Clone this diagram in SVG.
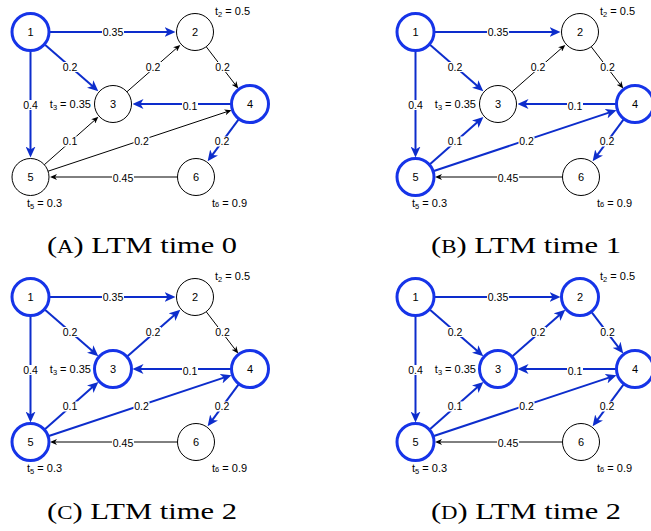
<svg xmlns="http://www.w3.org/2000/svg" width="651" height="531" viewBox="0 0 651 531">
  <style>
    .n circle { fill: #fff; stroke: #000; stroke-width: 1; }
    .n.on circle { stroke: #1634e8; stroke-width: 3; }
    .n text { font-family: "Liberation Sans", Arial, sans-serif; font-size: 11px; text-anchor: middle; fill: #000; }
    .e { stroke: #000; stroke-width: 1; fill: none; marker-end: url(#arrow-k); }
    .e.on { stroke: #0d2dcc; stroke-width: 2; marker-end: url(#arrow-b); }
    .lb rect { fill: #fff; }
    .lb text { font-family: "Liberation Sans", Arial, sans-serif; font-size: 10.5px; text-anchor: middle; fill: #000; }
    .t { font-family: "Liberation Sans", Arial, sans-serif; font-size: 11px; fill: #000; }
    .t .s { font-size: 7.5px; }
    .cap { font-family: "Liberation Serif", "Times New Roman", serif; font-size: 24px; fill: #000; text-anchor: middle; }
    .cap .sc { font-size: 18px; }
  </style>
  <defs>
    <marker id="arrow-b" markerUnits="userSpaceOnUse" markerWidth="11" markerHeight="10" refX="7" refY="5" orient="auto">
      <path d="M0,0 L11,5 L0,10 L3,5 Z" fill="#0d2dcc"/>
    </marker>
    <marker id="arrow-k" markerUnits="userSpaceOnUse" markerWidth="7" markerHeight="6" refX="5" refY="3" orient="auto">
      <path d="M0,0 L7,3 L0,6 L2,3 Z" fill="#000"/>
    </marker>
  </defs>

  <rect width="651" height="531" fill="#fff"/>

  <!-- (A) time 0 -->
  <g id="panel-a">
    <g id="a-connectors">
      <line id="a-e12" class="e on" x1="49" y1="32" x2="171.5" y2="32"/>
      <line id="a-e13" class="e on" x1="44.4" y1="44.2" x2="95.3" y2="88.6"/>
      <line id="a-e15" class="e on" x1="30.5" y1="50.5" x2="30.5" y2="153.5"/>
      <line id="a-e32" class="e" x1="126.9" y1="91.8" x2="178.8" y2="46.2"/>
      <line id="a-e24" class="e" x1="206.2" y1="46.7" x2="237" y2="86.9"/>
      <line id="a-e43" class="e on" x1="231.5" y1="104" x2="136.5" y2="104"/>
      <line id="a-e46" class="e on" x1="239" y1="118.9" x2="210" y2="158.1"/>
      <line id="a-e53" class="e" x1="44.35" y1="164.7" x2="96.9" y2="118.2"/>
      <line id="a-e54" class="e" x1="48.1" y1="171.2" x2="229.6" y2="110.8"/>
      <line id="a-e65" class="e" x1="177.5" y1="177" x2="52" y2="177"/>
      <g class="lb">
        <rect x="102" y="27" width="22" height="10"/><text x="113" y="35.8">0.35</text>
        <rect x="62" y="62" width="16" height="10"/><text x="70" y="70.8">0.2</text>
        <rect x="22.5" y="100" width="16" height="10"/><text x="30.5" y="108.8">0.4</text>
        <rect x="145" y="62" width="16" height="10"/><text x="153" y="70.8">0.2</text>
        <rect x="214.5" y="62" width="16" height="10"/><text x="222.5" y="70.8">0.2</text>
        <rect x="182" y="101" width="16" height="10"/><text x="190" y="109.8">0.1</text>
        <rect x="214" y="136.5" width="16" height="10"/><text x="222" y="145.3">0.2</text>
        <rect x="62" y="136.5" width="16" height="10"/><text x="70" y="145.3">0.1</text>
        <rect x="133.5" y="136.5" width="16" height="10"/><text x="141.5" y="145.3">0.2</text>
        <rect x="112" y="173" width="22" height="10"/><text x="123" y="181.8">0.45</text>
      </g>
    </g>
    <g id="a-n1" class="n on"><circle cx="30.5" cy="32" r="18.5"/><text x="30.5" y="36">1</text></g>
    <g id="a-n2" class="n"><circle cx="195" cy="32" r="18.5"/><text x="195" y="36">2</text></g>
    <g id="a-n3" class="n"><circle cx="113" cy="104" r="18.5"/><text x="113" y="108">3</text></g>
    <g id="a-n4" class="n on"><circle cx="250" cy="104" r="18.5"/><text x="250" y="108">4</text></g>
    <g id="a-n5" class="n"><circle cx="30.5" cy="177" r="18.5"/><text x="30.5" y="181">5</text></g>
    <g id="a-n6" class="n"><circle cx="196" cy="177" r="18.5"/><text x="196" y="181">6</text></g>
    <text class="t" x="215" y="14.5">t<tspan class="s" dy="2.5">2</tspan><tspan dy="-2.5"> = 0.5</tspan></text>
    <text class="t" x="91" y="107.5" text-anchor="end">t<tspan class="s" dy="2.5">3</tspan><tspan dy="-2.5"> = 0.35</tspan></text>
    <text class="t" x="27" y="206.5">t<tspan class="s" dy="2.5">5</tspan><tspan dy="-2.5"> = 0.3</tspan></text>
    <text class="t" x="212" y="206.5">t<tspan class="s">6</tspan> = 0.9</text>
    <text class="cap" x="142" y="253" textLength="190" lengthAdjust="spacingAndGlyphs">(<tspan class="sc">A</tspan>) LTM time 0</text>
  </g>

  <!-- (B) time 1 -->
  <g id="panel-b" transform="translate(385,0)">
    <g id="b-connectors">
      <line id="b-e12" class="e on" x1="49" y1="32" x2="171.5" y2="32"/>
      <line id="b-e13" class="e on" x1="44.4" y1="44.2" x2="95.3" y2="88.6"/>
      <line id="b-e15" class="e on" x1="30.5" y1="50.5" x2="30.5" y2="153.5"/>
      <line id="b-e32" class="e" x1="126.9" y1="91.8" x2="178.8" y2="46.2"/>
      <line id="b-e24" class="e" x1="206.2" y1="46.7" x2="237" y2="86.9"/>
      <line id="b-e43" class="e on" x1="231.5" y1="104" x2="136.5" y2="104"/>
      <line id="b-e46" class="e on" x1="239" y1="118.9" x2="210" y2="158.1"/>
      <line id="b-e53" class="e on" x1="44.35" y1="164.7" x2="95.4" y2="119.6"/>
      <line id="b-e54" class="e on" x1="48.1" y1="171.2" x2="227.7" y2="111.4"/>
      <line id="b-e65" class="e" x1="177.5" y1="177" x2="52" y2="177"/>
      <g class="lb">
        <rect x="102" y="27" width="22" height="10"/><text x="113" y="35.8">0.35</text>
        <rect x="62" y="62" width="16" height="10"/><text x="70" y="70.8">0.2</text>
        <rect x="22.5" y="100" width="16" height="10"/><text x="30.5" y="108.8">0.4</text>
        <rect x="145" y="62" width="16" height="10"/><text x="153" y="70.8">0.2</text>
        <rect x="214.5" y="62" width="16" height="10"/><text x="222.5" y="70.8">0.2</text>
        <rect x="182" y="101" width="16" height="10"/><text x="190" y="109.8">0.1</text>
        <rect x="214" y="136.5" width="16" height="10"/><text x="222" y="145.3">0.2</text>
        <rect x="62" y="136.5" width="16" height="10"/><text x="70" y="145.3">0.1</text>
        <rect x="133.5" y="136.5" width="16" height="10"/><text x="141.5" y="145.3">0.2</text>
        <rect x="112" y="173" width="22" height="10"/><text x="123" y="181.8">0.45</text>
      </g>
    </g>
    <g id="b-n1" class="n on"><circle cx="30.5" cy="32" r="18.5"/><text x="30.5" y="36">1</text></g>
    <g id="b-n2" class="n"><circle cx="195" cy="32" r="18.5"/><text x="195" y="36">2</text></g>
    <g id="b-n3" class="n"><circle cx="113" cy="104" r="18.5"/><text x="113" y="108">3</text></g>
    <g id="b-n4" class="n on"><circle cx="250" cy="104" r="18.5"/><text x="250" y="108">4</text></g>
    <g id="b-n5" class="n on"><circle cx="30.5" cy="177" r="18.5"/><text x="30.5" y="181">5</text></g>
    <g id="b-n6" class="n"><circle cx="196" cy="177" r="18.5"/><text x="196" y="181">6</text></g>
    <text class="t" x="215" y="14.5">t<tspan class="s" dy="2.5">2</tspan><tspan dy="-2.5"> = 0.5</tspan></text>
    <text class="t" x="91" y="107.5" text-anchor="end">t<tspan class="s" dy="2.5">3</tspan><tspan dy="-2.5"> = 0.35</tspan></text>
    <text class="t" x="27" y="206.5">t<tspan class="s" dy="2.5">5</tspan><tspan dy="-2.5"> = 0.3</tspan></text>
    <text class="t" x="212" y="206.5">t<tspan class="s">6</tspan> = 0.9</text>
    <text class="cap" x="141" y="253" textLength="190" lengthAdjust="spacingAndGlyphs">(<tspan class="sc">B</tspan>) LTM time 1</text>
  </g>

  <!-- (C) time 2 -->
  <g id="panel-c" transform="translate(0,265)">
    <g id="c-connectors">
      <line id="c-e12" class="e on" x1="49" y1="32" x2="171.5" y2="32"/>
      <line id="c-e13" class="e on" x1="44.4" y1="44.2" x2="95.3" y2="88.6"/>
      <line id="c-e15" class="e on" x1="30.5" y1="50.5" x2="30.5" y2="153.5"/>
      <line id="c-e32" class="e on" x1="126.9" y1="91.8" x2="177.3" y2="47.5"/>
      <line id="c-e24" class="e" x1="206.2" y1="46.7" x2="237" y2="86.9"/>
      <line id="c-e43" class="e on" x1="231.5" y1="104" x2="136.5" y2="104"/>
      <line id="c-e46" class="e on" x1="239" y1="118.9" x2="210" y2="158.1"/>
      <line id="c-e53" class="e on" x1="44.35" y1="164.7" x2="95.4" y2="119.6"/>
      <line id="c-e54" class="e on" x1="48.1" y1="171.2" x2="227.7" y2="111.4"/>
      <line id="c-e65" class="e" x1="177.5" y1="177" x2="52" y2="177"/>
      <g class="lb">
        <rect x="102" y="27" width="22" height="10"/><text x="113" y="35.8">0.35</text>
        <rect x="62" y="62" width="16" height="10"/><text x="70" y="70.8">0.2</text>
        <rect x="22.5" y="100" width="16" height="10"/><text x="30.5" y="108.8">0.4</text>
        <rect x="145" y="62" width="16" height="10"/><text x="153" y="70.8">0.2</text>
        <rect x="214.5" y="62" width="16" height="10"/><text x="222.5" y="70.8">0.2</text>
        <rect x="182" y="101" width="16" height="10"/><text x="190" y="109.8">0.1</text>
        <rect x="214" y="136.5" width="16" height="10"/><text x="222" y="145.3">0.2</text>
        <rect x="62" y="136.5" width="16" height="10"/><text x="70" y="145.3">0.1</text>
        <rect x="133.5" y="136.5" width="16" height="10"/><text x="141.5" y="145.3">0.2</text>
        <rect x="112" y="173" width="22" height="10"/><text x="123" y="181.8">0.45</text>
      </g>
    </g>
    <g id="c-n1" class="n on"><circle cx="30.5" cy="32" r="18.5"/><text x="30.5" y="36">1</text></g>
    <g id="c-n2" class="n"><circle cx="195" cy="32" r="18.5"/><text x="195" y="36">2</text></g>
    <g id="c-n3" class="n on"><circle cx="113" cy="104" r="18.5"/><text x="113" y="108">3</text></g>
    <g id="c-n4" class="n on"><circle cx="250" cy="104" r="18.5"/><text x="250" y="108">4</text></g>
    <g id="c-n5" class="n on"><circle cx="30.5" cy="177" r="18.5"/><text x="30.5" y="181">5</text></g>
    <g id="c-n6" class="n"><circle cx="196" cy="177" r="18.5"/><text x="196" y="181">6</text></g>
    <text class="t" x="215" y="14.5">t<tspan class="s" dy="2.5">2</tspan><tspan dy="-2.5"> = 0.5</tspan></text>
    <text class="t" x="91" y="107.5" text-anchor="end">t<tspan class="s" dy="2.5">3</tspan><tspan dy="-2.5"> = 0.35</tspan></text>
    <text class="t" x="27" y="206.5">t<tspan class="s" dy="2.5">5</tspan><tspan dy="-2.5"> = 0.3</tspan></text>
    <text class="t" x="212" y="206.5">t<tspan class="s">6</tspan> = 0.9</text>
    <text class="cap" x="142" y="254" textLength="190" lengthAdjust="spacingAndGlyphs">(<tspan class="sc">C</tspan>) LTM time 2</text>
  </g>

  <!-- (D) time 2 -->
  <g id="panel-d" transform="translate(385,265)">
    <g id="d-connectors">
      <line id="d-e12" class="e on" x1="49" y1="32" x2="171.5" y2="32"/>
      <line id="d-e13" class="e on" x1="44.4" y1="44.2" x2="95.3" y2="88.6"/>
      <line id="d-e15" class="e on" x1="30.5" y1="50.5" x2="30.5" y2="153.5"/>
      <line id="d-e32" class="e on" x1="126.9" y1="91.8" x2="177.3" y2="47.5"/>
      <line id="d-e24" class="e on" x1="206.2" y1="46.7" x2="235.8" y2="85.3"/>
      <line id="d-e43" class="e on" x1="231.5" y1="104" x2="136.5" y2="104"/>
      <line id="d-e46" class="e on" x1="239" y1="118.9" x2="210" y2="158.1"/>
      <line id="d-e53" class="e on" x1="44.35" y1="164.7" x2="95.4" y2="119.6"/>
      <line id="d-e54" class="e on" x1="48.1" y1="171.2" x2="227.7" y2="111.4"/>
      <line id="d-e65" class="e" x1="177.5" y1="177" x2="52" y2="177"/>
      <g class="lb">
        <rect x="102" y="27" width="22" height="10"/><text x="113" y="35.8">0.35</text>
        <rect x="62" y="62" width="16" height="10"/><text x="70" y="70.8">0.2</text>
        <rect x="22.5" y="100" width="16" height="10"/><text x="30.5" y="108.8">0.4</text>
        <rect x="145" y="62" width="16" height="10"/><text x="153" y="70.8">0.2</text>
        <rect x="214.5" y="62" width="16" height="10"/><text x="222.5" y="70.8">0.2</text>
        <rect x="182" y="101" width="16" height="10"/><text x="190" y="109.8">0.1</text>
        <rect x="214" y="136.5" width="16" height="10"/><text x="222" y="145.3">0.2</text>
        <rect x="62" y="136.5" width="16" height="10"/><text x="70" y="145.3">0.1</text>
        <rect x="133.5" y="136.5" width="16" height="10"/><text x="141.5" y="145.3">0.2</text>
        <rect x="112" y="173" width="22" height="10"/><text x="123" y="181.8">0.45</text>
      </g>
    </g>
    <g id="d-n1" class="n on"><circle cx="30.5" cy="32" r="18.5"/><text x="30.5" y="36">1</text></g>
    <g id="d-n2" class="n on"><circle cx="195" cy="32" r="18.5"/><text x="195" y="36">2</text></g>
    <g id="d-n3" class="n on"><circle cx="113" cy="104" r="18.5"/><text x="113" y="108">3</text></g>
    <g id="d-n4" class="n on"><circle cx="250" cy="104" r="18.5"/><text x="250" y="108">4</text></g>
    <g id="d-n5" class="n on"><circle cx="30.5" cy="177" r="18.5"/><text x="30.5" y="181">5</text></g>
    <g id="d-n6" class="n"><circle cx="196" cy="177" r="18.5"/><text x="196" y="181">6</text></g>
    <text class="t" x="215" y="14.5">t<tspan class="s" dy="2.5">2</tspan><tspan dy="-2.5"> = 0.5</tspan></text>
    <text class="t" x="91" y="107.5" text-anchor="end">t<tspan class="s" dy="2.5">3</tspan><tspan dy="-2.5"> = 0.35</tspan></text>
    <text class="t" x="27" y="206.5">t<tspan class="s" dy="2.5">5</tspan><tspan dy="-2.5"> = 0.3</tspan></text>
    <text class="t" x="212" y="206.5">t<tspan class="s">6</tspan> = 0.9</text>
    <text class="cap" x="141" y="254" textLength="190" lengthAdjust="spacingAndGlyphs">(<tspan class="sc">D</tspan>) LTM time 2</text>
  </g>
</svg>
